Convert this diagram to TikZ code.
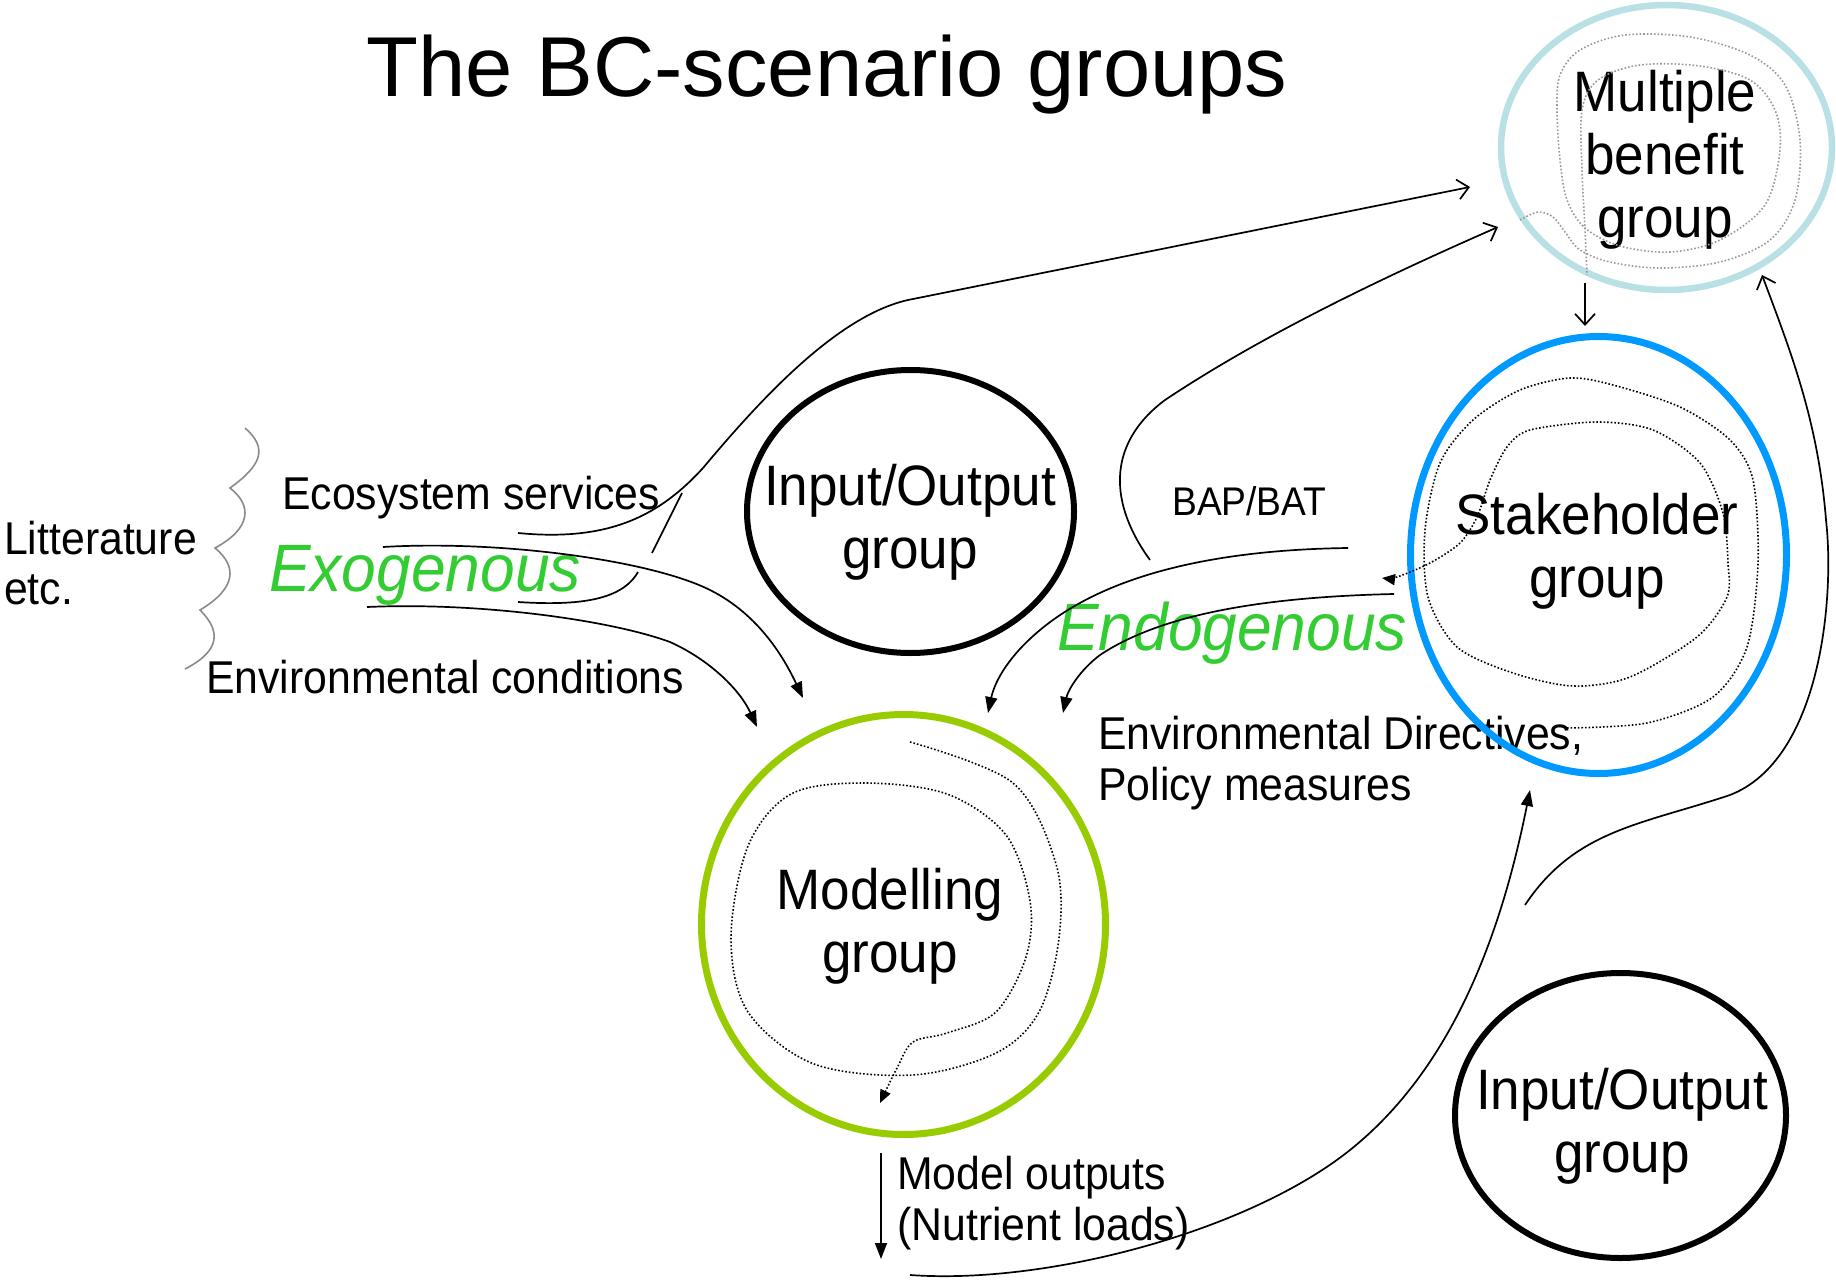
\documentclass[tikz,border=0pt]{standalone}
\usepackage{fontspec}
\setmainfont[FakeStretch=0.93]{Liberation Sans}
\newfontfamily\titlefont{Liberation Sans}
\usetikzlibrary{shapes.geometric,arrows.meta}
\definecolor{mbblue}{HTML}{B9E0E4}
\definecolor{shblue}{HTML}{0099FF}
\definecolor{mgreen}{HTML}{99CC00}
\definecolor{tgreen}{HTML}{33CC33}
\definecolor{squig}{HTML}{8A8A8A}
\definecolor{dotgrey}{HTML}{999999}
\begin{document}
\begin{tikzpicture}[x=1pt,y=-1pt,
  grp/.style={ellipse, draw, inner sep=0pt, outer sep=0pt},
  lbl/.style={inner sep=0pt, anchor=base west, align=left, font=\fontsize{46}{51}\selectfont},
  glbl/.style={inner sep=0pt, anchor=base, align=center, font=\fontsize{57}{63}\selectfont},
  gen/.style={inner sep=0pt, anchor=base west, text=tgreen, font=\fontsize{67}{67}\selectfont\itshape},
  conn/.style={line width=1.7pt},
  fillarr/.style={conn, -{Triangle[length=16pt,width=12pt]}},
  openarr/.style={conn, -{Straight Barb[length=11pt,width=20pt]}},
  spiral/.style={line width=1.6pt, dash pattern=on 1.6pt off 2pt, -{Triangle[length=13pt,width=11pt]}},
  greyspiral/.style={dotgrey, line width=1.6pt, dash pattern=on 1.6pt off 2pt},
]
\useasboundingbox (0,0) rectangle (1836,1281);

% ---------- texts (base anchor = baseline of last line) ----------
\node[inner sep=0pt, anchor=base, font=\titlefont\fontsize{85}{85}\selectfont] (title) at (827,97) {The BC-scenario groups};
\node[lbl, font=\fontsize{46}{50}\selectfont] (lit) at (4,604) {Litterature\\etc.};
\node[lbl] (eco) at (282,509) {Ecosystem services};
\node[gen] (exo) at (269,591) {Exogenous};
\node[lbl] (envc) at (206,693) {Environmental conditions};
\node[lbl, font=\fontsize{40}{44}\selectfont] (bap) at (1172,515) {BAP/BAT};
\node[gen] (endo) at (1057,650) {Endogenous};
\node[lbl] (envd) at (1098,800) {Environmental Directives,\\Policy measures};
\node[lbl] (mout) at (897,1240) {Model outputs\\(Nutrient loads)};

\node[glbl] (tmb) at (1665,238) {Multiple\\benefit\\group};
\node[glbl] (tsh) at (1597,597) {Stakeholder\\group};
\node[glbl] (tmo) at (890,972) {Modelling\\group};
\node[glbl] (tio1) at (910,568) {Input/Output\\group};
\node[glbl] (tio2) at (1622,1172) {Input/Output\\group};

% ---------- group ellipses ----------
\node[grp, draw=mbblue, line width=6.5pt, minimum width=331pt, minimum height=285pt] (mb) at (1666.5,147.5) {};
\node[grp, draw=shblue, line width=7pt, minimum width=376pt, minimum height=437pt] (sh) at (1598.5,555) {};
\node[grp, draw=mgreen, line width=7pt, minimum width=404pt, minimum height=420pt] (mo) at (903.5,924.5) {};
\node[grp, draw=black, line width=6pt, minimum width=327pt, minimum height=283pt] (io1) at (910.5,511.5) {};
\node[grp, draw=black, line width=6pt, minimum width=331pt, minimum height=285pt] (io2) at (1620.5,1115.5) {};

% ---------- inner spirals ----------
\draw[greyspiral] plot[smooth, tension=0.55] coordinates {(1520,220) (1538,212) (1553,217) (1565,232) (1580,250) (1610,262) (1660,268) (1720,262) (1770,240) (1795,200) (1800,140) (1785,85) (1750,55) (1690,37) (1625,35) (1580,50) (1560,75) (1557,110) (1560,160) (1567,200) (1585,228) (1620,246) (1670,252) (1720,240) (1765,205) (1780,150) (1775,110) (1750,80) (1700,66) (1640,65) (1598,80) (1582,110) (1582,170) (1585,230) (1587,275)};

\draw[spiral] plot[smooth, tension=0.5] coordinates {(1567,728) (1647,723) (1713,697) (1747,647) (1758,563) (1753,480) (1730,440) (1680,407) (1613,385) (1570,378) (1520,390) (1473,420) (1440,463) (1425,530) (1428,597) (1457,647) (1513,673) (1573,686) (1630,677) (1697,637) (1727,597) (1728,563) (1723,513) (1700,463) (1653,430) (1597,422) (1530,430) (1507,447) (1490,480) (1477,517) (1460,543) (1430,563) (1397,577) (1382,578)};

\draw[spiral] plot[smooth, tension=0.55] coordinates {(910,742) (1013,783) (1056,864) (1059,938) (1039,1012) (996,1053) (913,1075) (814,1064) (748,1012) (731,938) (748,846) (791,794) (864,783) (947,794) (1006,835) (1030,901) (1026,957) (996,1012) (947,1033) (913,1042) (897,1068) (880,1103)};

% ---------- grey squiggle ----------
\draw[squig, line width=1.6pt] (245,428) .. controls (268,448) and (262,465) .. (230,488) .. controls (252,505) and (252,528) .. (215,548) .. controls (237,566) and (237,588) .. (200,610) .. controls (220,630) and (222,650) .. (185,669);

% ---------- connector end points ----------
\coordinate (esA) at (518,533);
\coordinate (mbIn1) at (1470,187);
\coordinate (brM) at (652,553);
\coordinate (brT) at (682,493);
\coordinate (brB) at (518,602);
\coordinate (brBe) at (638,572);
\coordinate (exS) at (383,547);
\coordinate (moIn1) at (803,698);
\coordinate (ecS) at (367,607);
\coordinate (moIn2) at (757,727);
\coordinate (bapS) at (1150,560);
\coordinate (mbIn2) at (1498,227);
\coordinate (f1S) at (1348,548);
\coordinate (moIn3) at (988,713);
\coordinate (f2S) at (1394,594);
\coordinate (moIn4) at (1063,713);
\coordinate (moOut) at (881,1153);
\coordinate (moOutE) at (881,1259);
\coordinate (nlS) at (910,1275);
\coordinate (shIn) at (1530,790);
\coordinate (brS) at (1525,905);
\coordinate (mbIn3) at (1762,275);
\coordinate (mbOut) at (1585,283);
\coordinate (shTop) at (1585,326);

% ---------- connectors ----------
\draw[openarr] (esA) .. controls (610,542) and (660,515) .. (703,468) .. controls (760,400) and (840,312) .. (913,299) -- (mbIn1);
\draw[conn] (brM) -- (brT);
\draw[conn] (brB) .. controls (580,606) and (622,600) .. (brBe);
\draw[fillarr] (exS) .. controls (500,540) and (650,560) .. (710,590) .. controls (760,615) and (785,660) .. (moIn1);
\draw[fillarr] (ecS) .. controls (480,602) and (610,620) .. (670,642) .. controls (710,660) and (740,690) .. (moIn2);
\draw[openarr] (bapS) .. controls (1110,505) and (1105,445) .. (1165,400) .. controls (1270,330) and (1400,270) .. (mbIn2);
\draw[fillarr] (f1S) .. controls (1200,550) and (1100,580) .. (1040,630) .. controls (1010,655) and (995,680) .. (moIn3);
\draw[fillarr] (f2S) .. controls (1260,597) and (1160,615) .. (1100,655) .. controls (1080,670) and (1068,690) .. (moIn4);
\draw[fillarr] (moOut) -- (moOutE);
\draw[fillarr] (nlS) .. controls (1050,1285) and (1250,1230) .. (1350,1150) .. controls (1450,1070) and (1500,940) .. (shIn);
\draw[openarr] (brS) .. controls (1575,830) and (1640,825) .. (1730,795) .. controls (1820,760) and (1835,600) .. (1826,520) .. controls (1818,420) and (1790,350) .. (mbIn3);
\draw[openarr] (mbOut) -- (shTop);
\end{tikzpicture}
\end{document}
